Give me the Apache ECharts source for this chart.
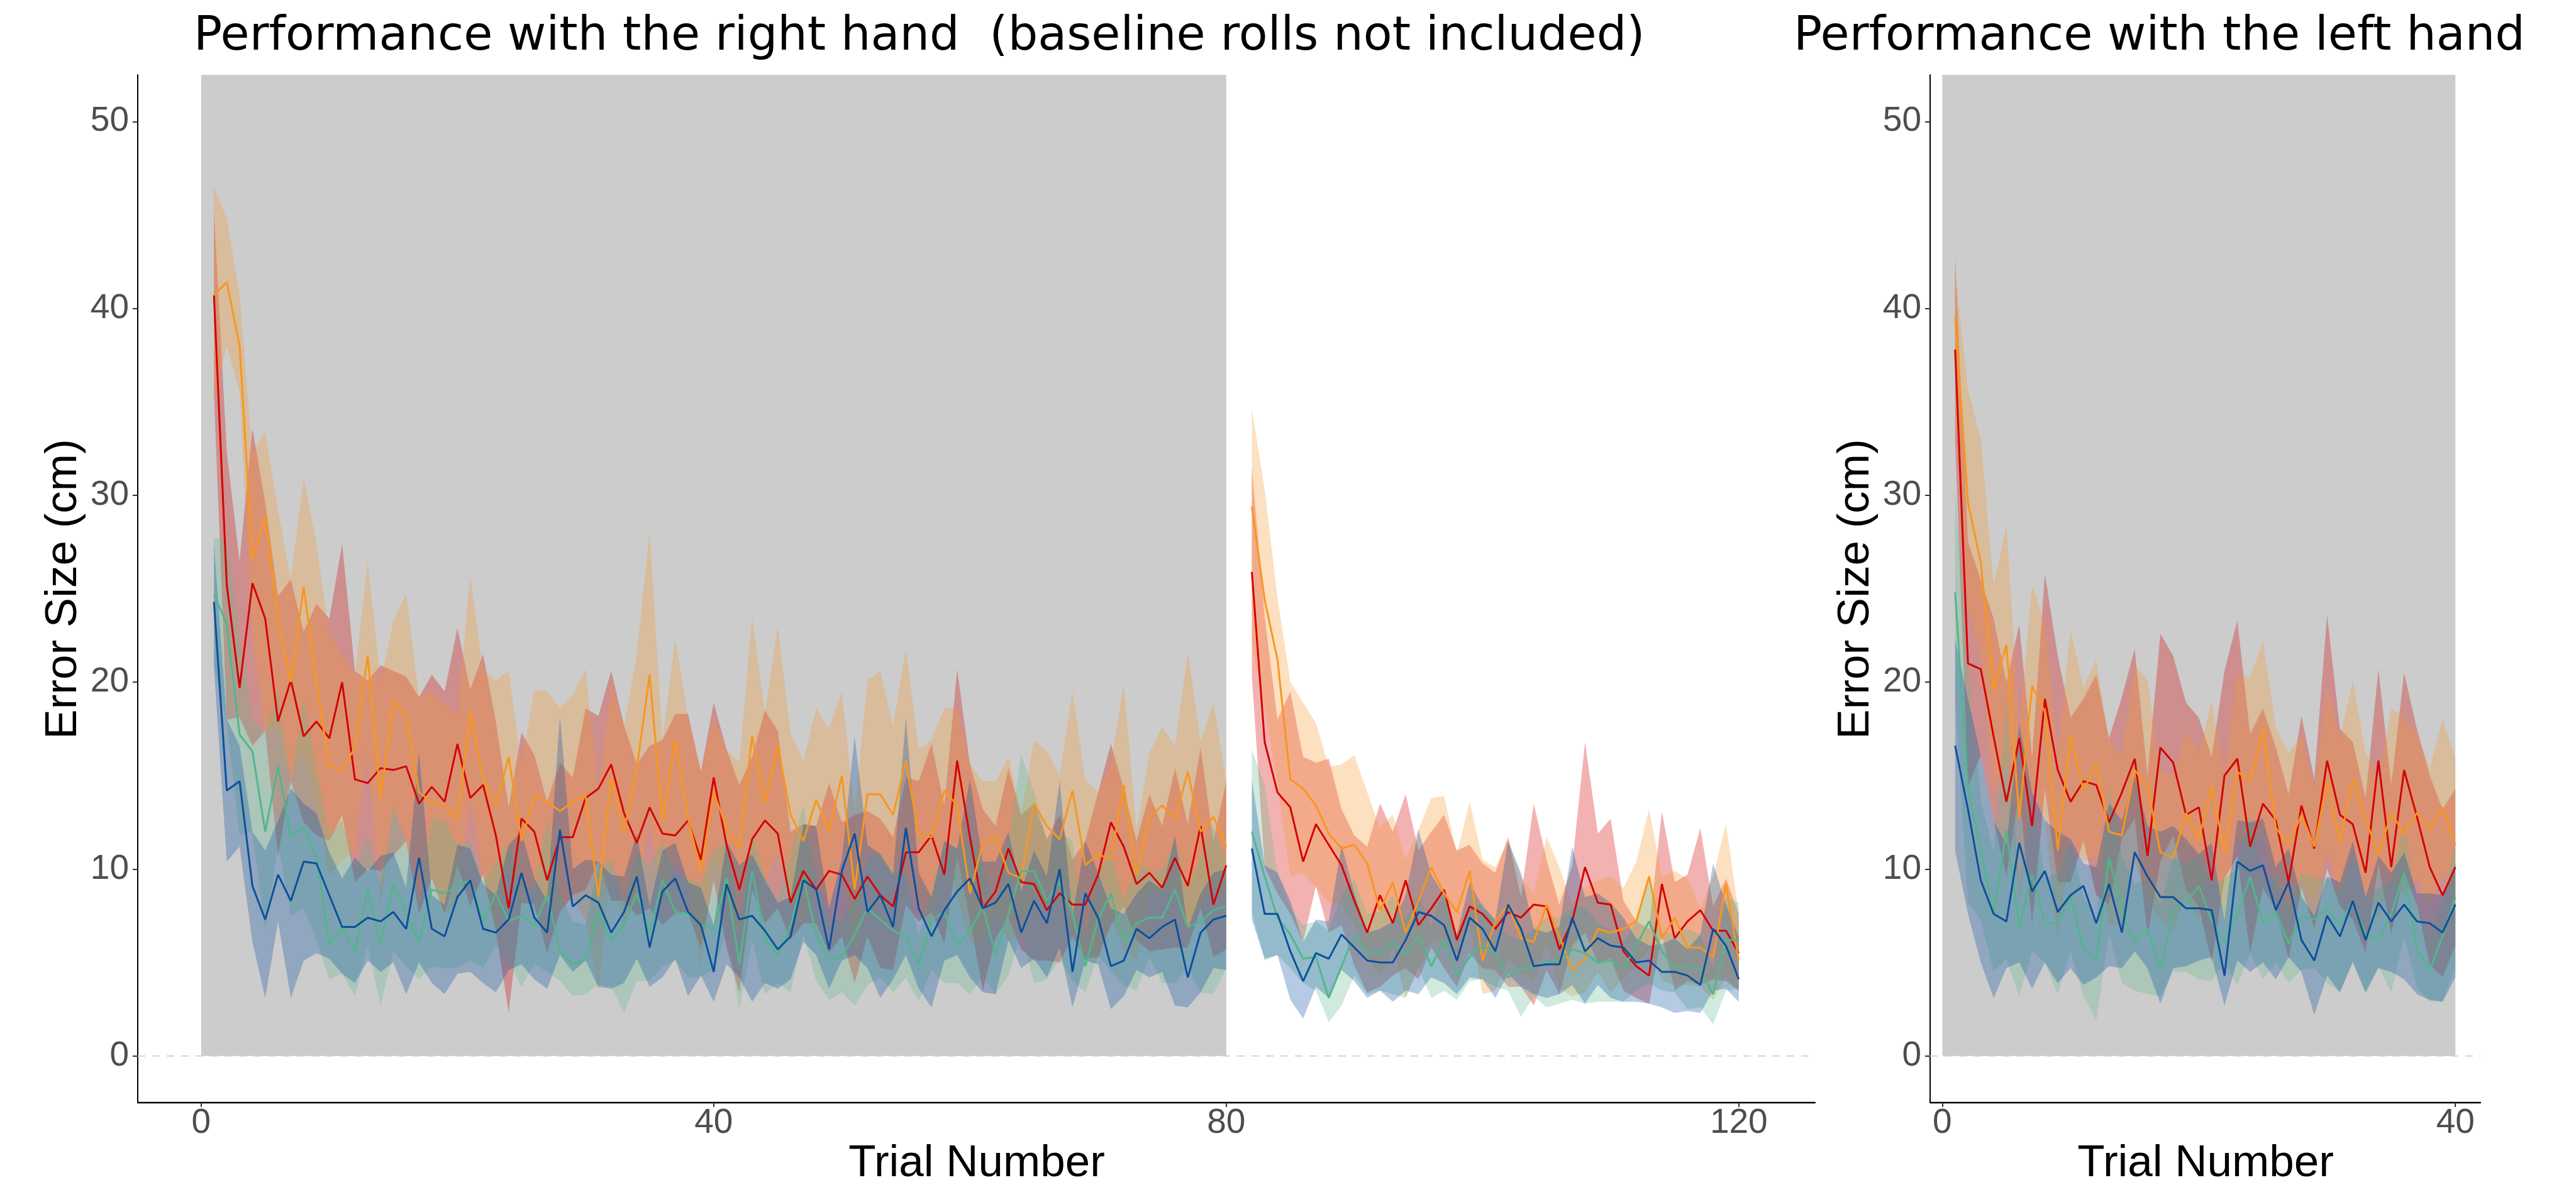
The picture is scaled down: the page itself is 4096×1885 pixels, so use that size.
<!DOCTYPE html>
<html>
<head>
<meta charset="utf-8">
<title>Performance with the right and left hand</title>
<script src="https://cdn.jsdelivr.net/npm/echarts@6/dist/echarts.min.js"></script>
<style>
  html, body { margin: 0; padding: 0; background: #fff; }
  #main { width: 4096px; height: 1885px; }
</style>
</head>
<body>
<div id="main"></div>
<script>
// ---- data: right hand, trials 1..120 (trial 81 = no data) ----
var rhRedMean = [40.7, 25.2, 19.7, 25.3, 23.4, 17.9, 20.1, 17.1, 17.9, 17.0, 20.0, 14.8, 14.6, 15.4, 15.3, 15.5, 13.5, 14.4, 13.6, 16.7,
  13.8, 14.5, 11.8, 7.9, 12.7, 12.0, 9.4, 11.7, 11.7, 13.8, 14.3, 15.6, 13.0, 11.4, 13.3, 11.9, 11.8, 12.6, 10.5, 14.9,
  11.3, 8.9, 11.6, 12.6, 11.9, 8.2, 9.9, 8.9, 9.9, 9.7, 8.4, 9.6, 8.6, 8.0, 10.9, 10.9, 11.8, 9.7, 15.8, 11.7,
  7.9, 8.8, 11.1, 9.3, 9.2, 7.8, 8.7, 8.1, 8.1, 9.7, 12.5, 11.2, 9.2, 9.8, 9.0, 10.6, 9.1, 12.3, 8.1, 10.2,
  null,
  25.9, 16.8, 14.1, 13.3, 10.4, 12.4, 11.3, 10.2, 8.3, 6.6, 8.6, 7.1, 9.4, 7.0, 7.9, 8.9, 6.2, 8.0, 7.6, 6.8,
  7.7, 7.4, 8.1, 8.0, 5.7, 7.2, 10.1, 8.2, 8.1, 5.6, 4.8, 4.3, 9.2, 6.3, 7.2, 7.8, 6.7, 6.7, 5.5];
var rhRedLow = [35.4, 18.0, 18.1, 16.6, 17.4, 10.7, 14.7, 12.5, 11.8, 11.5, 12.9, 9.3, 10.0, 9.9, 10.7, 11.5, 7.6, 9.5, 7.6, 10.2,
  8.0, 9.7, 6.7, 2.3, 8.2, 8.1, 5.5, 7.7, 8.6, 8.9, 10.4, 8.3, 8.3, 7.5, 7.9, 7.0, 7.6, 7.6, 5.8, 9.4,
  5.8, 3.4, 8.9, 7.1, 7.9, 6.2, 7.1, 7.1, 5.5, 6.4, 3.9, 6.4, 4.7, 4.6, 8.1, 7.2, 7.7, 6.0, 10.7, 7.3,
  3.5, 6.3, 7.4, 5.7, 5.1, 5.1, 5.0, 6.4, 5.2, 5.3, 7.0, 8.0, 6.2, 5.6, 5.7, 5.8, 5.8, 7.9, 5.3, 5.7,
  null,
  20.3, 10.1, 8.7, 7.6, 6.1, 9.1, 6.6, 7.0, 4.8, 3.4, 3.7, 4.3, 4.7, 4.1, 5.8, 4.7, 3.7, 5.5, 4.7, 4.6,
  3.7, 3.7, 2.7, 4.6, 3.3, 5.9, 6.6, 5.0, 5.2, 3.5, 3.1, 2.8, 6.5, 3.5, 4.0, 3.8, 4.1, 4.0, 3.5];
var rhRedHigh = [45.2, 32.3, 26.5, 33.6, 29.6, 24.6, 25.5, 22.7, 24.2, 23.4, 27.4, 20.6, 20.1, 20.9, 20.6, 20.3, 19.2, 20.4, 19.5, 22.9,
  19.6, 21.5, 17.9, 13.3, 17.3, 16.1, 13.6, 15.7, 14.9, 18.6, 18.2, 20.6, 17.7, 15.6, 16.6, 16.9, 18.3, 18.3, 15.2, 18.9,
  16.4, 14.5, 16.0, 18.5, 17.4, 12.0, 12.4, 12.3, 14.6, 12.5, 12.9, 13.1, 12.7, 11.7, 14.9, 14.7, 16.7, 13.4, 20.7, 15.6,
  13.2, 12.3, 15.4, 12.9, 13.5, 11.6, 12.9, 10.5, 11.5, 14.1, 16.7, 14.3, 11.5, 14.0, 12.3, 15.4, 12.4, 16.5, 11.5, 14.7,
  null,
  31.5, 23.5, 18.0, 19.5, 16.0, 15.7, 15.9, 13.2, 11.8, 11.2, 13.5, 12.0, 14.0, 11.0, 12.0, 12.9, 11.0, 11.3, 10.3, 9.8,
  11.7, 8.5, 13.5, 10.5, 8.1, 10.2, 16.8, 11.9, 12.7, 8.3, 7.2, 6.8, 13.1, 9.3, 9.7, 12.2, 8.0, 9.5, 7.6];

var rhOrangeMean = [40.7, 41.4, 38.0, 26.6, 28.9, 23.3, 20.0, 25.1, 20.0, 15.5, 15.3, 16.5, 21.4, 13.8, 19.0, 18.2, 14.1, 13.6, 13.4, 12.7,
  18.4, 14.8, 13.4, 16.0, 11.5, 13.9, 13.6, 13.1, 13.6, 13.9, 8.5, 14.9, 12.0, 15.4, 20.4, 12.6, 16.9, 12.7, 9.9, 14.1,
  12.2, 11.2, 17.1, 13.5, 16.6, 12.9, 11.5, 13.7, 12.0, 15.0, 8.9, 14.0, 14.0, 12.9, 15.8, 11.8, 11.7, 14.2, 13.4, 8.7,
  11.4, 11.7, 9.8, 9.5, 13.5, 12.3, 11.6, 14.2, 10.2, 10.8, 10.5, 14.5, 9.7, 12.8, 13.4, 12.7, 15.2, 12.0, 12.8, 11.2,
  null,
  29.4, 24.4, 21.2, 14.8, 14.3, 13.4, 11.9, 11.1, 11.3, 10.3, 7.8, 9.3, 6.6, 8.3, 10.1, 8.7, 7.7, 9.9, 5.1, 7.2,
  8.1, 6.3, 6.1, 8.1, 6.4, 4.6, 5.2, 6.8, 6.6, 6.8, 7.2, 9.6, 6.3, 7.4, 5.8, 5.8, 5.3, 9.2, 5.1];
var rhOrangeLow = [35.0, 38.0, 35.5, 22.4, 17.3, 17.5, 14.7, 16.3, 13.5, 9.6, 10.5, 10.9, 16.3, 8.1, 13.3, 11.6, 8.2, 9.6, 7.6, 8.2,
  13.9, 9.5, 6.8, 10.0, 8.2, 9.4, 8.0, 7.7, 8.5, 7.2, 3.4, 10.5, 6.9, 8.7, 12.5, 8.3, 10.4, 9.2, 4.7, 10.9,
  8.1, 6.8, 10.7, 9.2, 10.9, 8.3, 7.0, 9.8, 7.8, 10.7, 5.0, 11.1, 10.4, 9.7, 9.7, 7.7, 6.9, 11.0, 8.5, 6.1,
  6.1, 7.8, 6.1, 6.6, 8.5, 7.9, 8.0, 6.5, 5.3, 5.2, 7.4, 5.7, 5.1, 8.7, 8.7, 8.8, 6.6, 8.0, 9.0, 8.1,
  null,
  22.0, 18.5, 14.5, 9.6, 9.8, 9.0, 8.2, 8.1, 7.0, 5.3, 4.2, 5.8, 3.1, 4.7, 6.2, 5.9, 5.4, 7.0, 3.3, 3.5,
  5.2, 4.4, 4.0, 5.9, 3.6, 3.2, 3.4, 4.5, 3.4, 4.2, 4.8, 5.7, 4.0, 3.8, 3.8, 3.7, 3.0, 4.2, 3.5];
var rhOrangeHigh = [46.5, 44.8, 40.7, 32.2, 33.4, 29.2, 25.5, 30.9, 27.4, 22.5, 21.5, 20.4, 26.5, 20.0, 23.3, 24.7, 19.2, 19.5, 18.8, 18.3,
  25.7, 20.6, 20.1, 20.6, 15.6, 19.6, 19.5, 18.6, 19.3, 20.7, 14.1, 19.9, 17.6, 21.5, 28.1, 16.9, 22.3, 18.1, 15.3, 18.1,
  16.4, 15.7, 23.5, 18.3, 23.0, 17.3, 15.8, 18.6, 17.5, 19.5, 13.0, 20.1, 20.6, 17.6, 21.8, 16.4, 16.9, 18.6, 18.6, 15.6,
  14.7, 14.7, 16.0, 12.9, 16.9, 16.3, 15.0, 19.5, 14.8, 14.1, 15.6, 19.9, 12.1, 16.2, 17.6, 16.6, 21.6, 16.8, 18.9, 14.7,
  null,
  34.6, 30.3, 24.5, 20.0, 18.9, 17.8, 15.5, 15.6, 16.1, 14.1, 12.2, 12.9, 10.5, 12.1, 13.8, 13.9, 10.8, 13.6, 10.5, 10.1,
  11.5, 9.6, 8.7, 11.7, 10.1, 8.1, 9.0, 9.4, 9.6, 9.0, 10.4, 13.2, 9.6, 9.9, 9.5, 7.9, 9.6, 12.4, 7.6];

var rhGreenMean = [24.7, 23.1, 17.2, 16.3, 12.0, 15.5, 11.8, 12.2, 10.7, 6.0, 6.9, 5.6, 8.9, 6.0, 9.2, 7.6, 6.1, 8.9, 8.7, 9.1,
  9.4, 7.2, 8.7, 7.2, 7.5, 7.0, 8.6, 5.6, 4.9, 5.2, 7.7, 6.2, 7.0, 8.7, 6.6, 9.4, 7.7, 7.6, 7.0, 6.8,
  9.5, 4.9, 9.9, 6.3, 5.4, 7.0, 9.5, 6.5, 5.1, 5.3, 6.5, 7.9, 7.3, 6.7, 6.4, 4.9, 7.3, 7.7, 5.9, 6.7,
  8.0, 5.4, 7.6, 9.9, 9.9, 8.3, 9.3, 7.6, 4.8, 7.3, 8.7, 6.1, 7.1, 7.4, 7.4, 8.9, 6.9, 7.2, 7.8, 8.0,
  null,
  12.0, 9.6, 7.4, 6.5, 5.2, 5.3, 3.1, 4.8, 6.5, 5.5, 5.5, 6.1, 5.4, 6.5, 4.8, 6.2, 4.3, 5.3, 5.9, 5.5,
  4.2, 4.7, 4.7, 5.1, 5.1, 5.7, 5.5, 5.0, 5.1, 4.7, 5.9, 7.2, 5.6, 4.7, 4.8, 4.6, 3.3, 6.2, 6.2];
var rhGreenLow = [20.9, 17.8, 11.8, 12.0, 6.7, 11.3, 7.5, 7.9, 6.2, 4.1, 4.4, 3.2, 5.9, 2.7, 5.6, 4.8, 4.1, 4.8, 4.7, 4.7,
  5.1, 4.7, 5.9, 5.0, 3.7, 4.9, 4.5, 4.0, 3.2, 3.3, 3.8, 3.7, 2.3, 4.0, 4.0, 4.8, 5.1, 4.2, 4.2, 4.7,
  6.6, 2.5, 6.2, 3.3, 3.9, 3.4, 6.5, 4.0, 3.0, 3.4, 2.7, 3.8, 4.2, 3.4, 4.2, 2.9, 4.6, 3.9, 3.9, 3.3,
  4.2, 3.3, 4.3, 6.6, 3.9, 4.1, 5.2, 4.0, 3.4, 5.4, 4.5, 3.8, 3.5, 5.3, 3.9, 3.9, 4.7, 3.4, 3.3, 4.7,
  null,
  7.7, 5.1, 5.4, 4.7, 3.9, 3.5, 1.8, 2.7, 4.3, 3.3, 3.5, 3.3, 3.1, 4.7, 3.1, 3.5, 3.0, 4.0, 4.1, 3.7,
  3.5, 2.1, 3.2, 2.6, 2.8, 3.0, 2.8, 2.9, 2.9, 2.9, 3.5, 3.9, 3.5, 3.4, 2.5, 2.6, 1.7, 3.5, 3.6];
var rhGreenHigh = [27.7, 27.6, 22.5, 18.0, 17.3, 19.5, 14.7, 19.1, 15.3, 11.8, 12.6, 10.1, 11.8, 9.0, 13.3, 11.5, 8.2, 12.7, 12.6, 11.3,
  11.5, 9.3, 10.4, 11.3, 9.2, 8.9, 12.7, 8.7, 7.2, 7.0, 10.2, 10.5, 8.3, 11.0, 10.1, 11.5, 9.8, 9.5, 9.2, 11.0,
  11.5, 7.2, 12.0, 9.6, 8.4, 10.9, 13.4, 9.5, 7.4, 7.2, 8.5, 10.5, 10.9, 9.8, 9.8, 6.4, 8.8, 11.5, 11.1, 11.5,
  10.4, 8.0, 11.5, 16.1, 14.1, 11.6, 12.0, 11.5, 6.4, 9.8, 11.0, 8.3, 10.3, 9.9, 9.9, 11.5, 9.0, 10.7, 12.3, 10.4,
  null,
  16.4, 14.5, 9.8, 7.9, 7.0, 7.2, 6.7, 8.6, 9.5, 7.6, 7.7, 8.6, 7.4, 8.6, 7.0, 8.9, 6.5, 7.8, 8.2, 7.2,
  6.4, 6.2, 6.8, 7.4, 7.4, 7.9, 8.0, 7.1, 6.8, 6.1, 7.2, 9.7, 6.6, 6.6, 6.8, 6.5, 4.8, 8.5, 8.2];

var rhBlueMean = [24.3, 14.2, 14.7, 9.1, 7.3, 9.7, 8.3, 10.4, 10.3, 8.6, 6.9, 6.9, 7.4, 7.2, 7.7, 6.8, 10.6, 6.8, 6.4, 8.5,
  9.4, 6.8, 6.6, 7.3, 9.8, 7.4, 6.6, 12.1, 8.0, 8.6, 8.2, 6.6, 7.7, 9.6, 5.8, 8.8, 9.5, 7.7, 7.0, 4.5,
  9.2, 7.3, 7.5, 6.7, 5.7, 6.4, 9.4, 8.9, 5.7, 9.9, 11.9, 7.7, 8.6, 6.9, 12.2, 7.9, 6.4, 7.8, 8.8, 9.5,
  7.9, 8.2, 9.2, 6.6, 8.3, 7.1, 10.0, 4.5, 8.7, 7.4, 4.8, 5.1, 6.8, 6.3, 6.9, 7.3, 4.2, 6.6, 7.3, 7.5,
  null,
  11.1, 7.6, 7.6, 5.6, 4.0, 5.5, 5.2, 6.5, 5.8, 5.1, 5.0, 5.0, 6.2, 7.7, 7.5, 7.0, 5.1, 7.4, 6.8, 5.6,
  8.1, 6.8, 4.8, 4.9, 4.9, 7.4, 5.6, 6.3, 5.9, 5.8, 5.0, 5.1, 4.5, 4.5, 4.3, 3.8, 6.8, 5.9, 4.1];
var rhBlueLow = [20.8, 10.4, 11.2, 6.1, 3.1, 7.2, 3.1, 5.1, 5.5, 5.2, 4.4, 3.9, 5.1, 4.5, 5.0, 3.3, 5.0, 3.9, 3.3, 4.4,
  4.5, 3.9, 3.4, 4.6, 4.9, 4.1, 3.6, 5.4, 4.5, 5.1, 3.7, 3.6, 3.9, 5.2, 3.7, 4.2, 5.2, 3.2, 4.3, 2.9,
  4.9, 4.2, 2.9, 3.9, 3.6, 4.1, 6.1, 5.4, 3.6, 5.1, 5.4, 4.7, 3.1, 4.1, 5.4, 3.6, 2.6, 5.1, 5.4, 4.2,
  3.4, 3.3, 6.2, 4.7, 5.2, 4.2, 5.8, 2.6, 5.1, 4.9, 2.5, 3.2, 4.6, 4.2, 4.5, 2.7, 2.6, 3.4, 4.7, 4.6,
  null,
  7.3, 5.2, 5.4, 3.0, 2.0, 3.7, 3.1, 4.6, 4.0, 3.1, 3.5, 2.9, 3.5, 3.3, 4.2, 3.9, 3.3, 4.2, 4.1, 3.1,
  4.4, 3.7, 3.3, 3.1, 3.3, 3.8, 2.8, 3.8, 3.1, 2.9, 2.9, 2.8, 2.6, 2.3, 2.4, 2.3, 3.5, 3.6, 2.9];
var rhBlueHigh = [27.4, 18.0, 16.6, 12.0, 11.0, 12.6, 14.3, 13.5, 13.0, 10.9, 9.5, 10.6, 9.9, 10.7, 10.9, 9.0, 16.3, 8.6, 8.1, 11.3,
  11.1, 9.2, 8.6, 11.3, 12.0, 9.5, 8.3, 18.2, 10.0, 10.5, 10.4, 9.7, 9.6, 11.9, 8.0, 11.0, 11.4, 9.3, 9.0, 7.0,
  11.5, 10.2, 10.8, 9.4, 8.2, 8.5, 12.4, 12.3, 7.9, 10.5, 17.1, 11.3, 10.8, 9.7, 18.1, 9.8, 8.5, 11.5, 11.1, 14.8,
  10.4, 10.4, 12.0, 8.8, 11.0, 9.6, 14.7, 7.5, 11.5, 9.8, 7.9, 7.6, 8.7, 9.4, 8.9, 11.8, 6.8, 8.7, 9.8, 10.0,
  null,
  14.8, 10.2, 9.8, 8.3, 6.1, 7.3, 7.2, 11.3, 8.7, 6.6, 6.8, 7.2, 8.6, 12.1, 9.7, 8.6, 6.5, 9.3, 8.0, 7.3,
  11.5, 9.8, 6.8, 6.6, 6.9, 11.2, 8.5, 8.7, 8.2, 7.4, 6.3, 5.9, 6.0, 6.3, 5.7, 6.5, 10.3, 8.1, 6.4];

// ---- data: left hand, trials 1..40 ----
var lhRedMean = [37.8, 21.0, 20.7, 17.1, 13.6, 17.0, 12.3, 19.1, 15.3, 13.6, 14.7, 14.5, 12.5, 14.1, 15.9, 10.7, 16.5, 15.7, 12.9, 13.3,
  9.4, 15.0, 15.9, 11.2, 13.5, 12.6, 9.3, 13.4, 11.1, 15.8, 12.9, 12.4, 9.8, 15.8, 10.1, 15.3, 12.8, 10.1, 8.6, 10.1];
var lhRedLow = [33.0, 14.4, 16.1, 12.6, 9.6, 14.1, 7.0, 14.3, 9.3, 9.3, 11.5, 8.6, 8.1, 11.6, 12.7, 6.4, 10.4, 11.8, 8.9, 8.0,
  5.0, 9.5, 10.7, 5.5, 9.0, 7.8, 5.2, 9.0, 6.8, 10.0, 8.0, 7.3, 5.5, 10.3, 6.5, 9.8, 8.1, 4.9, 4.2, 5.9];
var lhRedHigh = [42.7, 27.5, 25.5, 23.4, 20.0, 23.1, 16.0, 25.8, 21.4, 18.1, 19.1, 20.4, 17.0, 19.2, 21.8, 15.0, 22.6, 21.4, 18.9, 18.1,
  16.0, 20.6, 23.3, 17.2, 18.6, 16.5, 14.0, 18.2, 14.8, 23.6, 17.5, 16.8, 13.8, 20.7, 14.5, 20.5, 17.5, 15.0, 13.2, 14.3];
var lhOrangeMean = [39.5, 29.6, 26.4, 19.6, 22.0, 12.7, 19.8, 18.4, 11.0, 17.2, 14.2, 15.6, 12.0, 11.8, 15.3, 14.4, 10.9, 10.6, 13.0, 11.6,
  14.4, 10.9, 15.2, 14.7, 17.5, 12.2, 11.3, 12.9, 11.2, 14.7, 11.4, 14.8, 12.7, 10.7, 13.0, 11.9, 13.0, 12.1, 13.3, 11.3];
var lhOrangeLow = [34.0, 24.0, 21.5, 14.1, 15.5, 8.2, 14.3, 12.7, 6.2, 11.6, 10.4, 10.7, 7.0, 7.0, 10.4, 8.4, 7.3, 6.7, 8.6, 7.2,
  10.7, 7.0, 11.5, 11.3, 11.9, 9.0, 7.2, 9.5, 8.1, 11.0, 8.5, 11.0, 8.8, 7.3, 9.5, 8.6, 9.5, 8.0, 9.8, 8.0];
var lhOrangeHigh = [42.1, 35.7, 33.0, 25.2, 28.4, 17.5, 25.2, 23.1, 16.3, 22.8, 19.7, 21.2, 16.9, 16.0, 20.9, 20.1, 15.3, 15.0, 17.4, 16.2,
  19.0, 15.0, 20.4, 20.3, 22.2, 17.6, 16.2, 17.2, 14.3, 19.7, 17.0, 20.1, 16.2, 14.8, 18.6, 18.1, 17.3, 15.4, 18.0, 15.9];
var lhGreenMean = [24.8, 14.4, 11.0, 7.6, 12.1, 6.9, 9.7, 7.1, 7.1, 8.6, 5.7, 5.2, 10.6, 7.8, 6.1, 6.8, 4.6, 7.8, 8.2, 9.1,
  7.2, 6.1, 7.6, 9.6, 7.1, 7.7, 6.0, 7.5, 7.3, 7.9, 7.0, 8.3, 6.5, 6.2, 7.6, 9.8, 5.7, 4.6, 6.4, 8.5];
var lhGreenLow = [19.1, 8.2, 7.3, 4.5, 5.2, 3.2, 5.6, 5.0, 3.3, 5.6, 3.2, 1.9, 6.5, 3.9, 3.5, 3.3, 3.2, 4.5, 4.5, 4.1,
  4.0, 5.0, 3.8, 5.5, 4.1, 5.0, 3.9, 4.6, 4.7, 3.9, 3.4, 5.1, 3.3, 4.8, 3.4, 6.4, 3.7, 2.9, 2.9, 4.7];
var lhGreenHigh = [30.3, 20.9, 13.7, 10.9, 18.9, 9.2, 13.8, 9.5, 9.8, 11.5, 8.6, 7.3, 14.4, 10.7, 9.2, 9.5, 8.0, 10.6, 10.3, 10.7,
  9.2, 9.5, 10.0, 13.0, 9.5, 9.6, 8.0, 9.8, 9.5, 9.5, 8.8, 10.9, 8.5, 9.0, 9.3, 12.4, 8.0, 6.5, 8.3, 11.5];
var lhBlueMean = [16.6, 13.2, 9.4, 7.6, 7.2, 11.4, 8.8, 9.9, 7.7, 8.6, 9.1, 7.1, 9.2, 6.6, 10.9, 9.6, 8.5, 8.5, 7.9, 7.9,
  7.8, 4.3, 10.4, 9.9, 10.2, 7.8, 9.3, 6.2, 5.1, 7.5, 6.4, 8.3, 6.2, 8.2, 7.2, 8.1, 7.2, 7.1, 6.6, 8.1];
var lhBlueLow = [11.0, 7.6, 5.0, 3.1, 4.7, 5.0, 3.6, 5.0, 3.9, 4.7, 3.8, 4.2, 4.8, 4.7, 5.6, 4.7, 2.8, 4.7, 4.8, 5.1,
  5.3, 2.7, 5.1, 4.5, 5.0, 4.1, 5.3, 4.5, 2.2, 4.3, 3.4, 5.0, 3.4, 4.7, 4.5, 4.1, 3.3, 3.0, 2.9, 4.2];
var lhBlueHigh = [22.3, 19.1, 16.1, 12.6, 11.3, 17.8, 14.1, 12.6, 12.0, 11.6, 10.3, 10.1, 13.5, 12.6, 15.0, 12.3, 12.0, 12.3, 11.6, 10.8,
  11.4, 7.2, 12.6, 12.5, 12.7, 10.1, 11.1, 8.5, 7.5, 9.6, 9.3, 11.5, 8.5, 10.7, 9.8, 10.9, 8.7, 8.7, 8.6, 10.3];

// ticks and the shaded (gray) trial ranges
var yTicks = [0, 10, 20, 30, 40, 50];
var rhXTicks = [0, 40, 80, 120];
var lhXTicks = [0, 40];
var rhShade = [0, 80];
var lhShade = [0, 40];

var RED = '#D40000', ORANGE = '#F8961E', GREEN = '#52B68C', BLUE = '#0B4F9C';
var RED_BAND = '#D40000', ORANGE_BAND = '#F5982D', GREEN_BAND = '#62B88D', BLUE_BAND = '#0B51A1';

var rhTrials = [], lhTrials = [];
for (var t = 1; t <= 120; t++) rhTrials.push(t);
for (var t2 = 1; t2 <= 40; t2++) lhTrials.push(t2);

var Y_MIN = -2.5, Y_MAX = 52.5;

function rgba(hex, a) {
  var n = parseInt(hex.slice(1), 16);
  return 'rgba(' + (n >> 16) + ',' + ((n >> 8) & 255) + ',' + (n & 255) + ',' + a + ')';
}

function pairs(xs, ys) {
  return xs.map(function (x, i) { return [x, ys[i] == null ? '-' : ys[i]]; });
}

// gray shaded block + dashed zero line
function backdrop(idx, shade) {
  return {
    type: 'custom', xAxisIndex: idx, yAxisIndex: idx, silent: true, z: 1,
    data: [[shade[0], 0]],
    renderItem: function (params, api) {
      var a = api.coord([shade[0], 0]);
      var b = api.coord([shade[1], Y_MAX]);
      var cs = params.coordSys;
      return {
        type: 'group', children: [
          { type: 'rect', shape: { x: a[0], y: b[1], width: b[0] - a[0], height: a[1] - b[1] }, style: { fill: '#CCCCCC' } },
          { type: 'line', shape: { x1: cs.x, y1: a[1], x2: cs.x + cs.width, y2: a[1] },
            style: { stroke: '#D3D3D3', lineWidth: 2, lineDash: [12, 11] } }
        ]
      };
    }
  };
}

// ribbon between low and high, split at missing trials
function band(idx, xs, low, high, color) {
  var runs = [], cur = [];
  for (var i = 0; i < xs.length; i++) {
    if (low[i] == null || high[i] == null) {
      if (cur.length) runs.push(cur);
      cur = [];
    } else {
      cur.push(i);
    }
  }
  if (cur.length) runs.push(cur);
  return {
    type: 'custom', xAxisIndex: idx, yAxisIndex: idx, silent: true, z: 2,
    data: runs.map(function (r) { return [xs[r[0]], low[r[0]]]; }),
    renderItem: function (params, api) {
      var r = runs[params.dataIndex], pts = [];
      r.forEach(function (i) { pts.push(api.coord([xs[i], high[i]])); });
      r.slice().reverse().forEach(function (i) { pts.push(api.coord([xs[i], low[i]])); });
      return { type: 'polygon', shape: { points: pts }, style: { fill: rgba(color, 0.3) } };
    }
  };
}

function meanLine(idx, xs, ys, color) {
  return {
    type: 'line', xAxisIndex: idx, yAxisIndex: idx, data: pairs(xs, ys),
    symbol: 'none', showSymbol: false, connectNulls: false, silent: true, z: 3,
    lineStyle: { color: color, width: 3 }
  };
}

var tickFont = { color: '#4D4D4D', fontFamily: 'Liberation Sans', fontSize: 55 };

function xAxis(idx, min, max, ticks) {
  return {
    gridIndex: idx, type: 'value', min: min, max: max,
    axisLine: { show: true, onZero: false, lineStyle: { color: '#000', width: 2.3 } },
    axisTick: { show: true, length: 7, customValues: ticks, lineStyle: { color: '#333', width: 2 } },
    axisLabel: Object.assign({ customValues: ticks, margin: 5 }, tickFont),
    splitLine: { show: false }
  };
}

function yAxis(idx) {
  return {
    gridIndex: idx, type: 'value', min: Y_MIN, max: Y_MAX,
    axisLine: { show: true, onZero: false, lineStyle: { color: '#000', width: 2 } },
    axisTick: { show: true, length: 8, customValues: yTicks, lineStyle: { color: '#333', width: 2 } },
    axisLabel: Object.assign({ customValues: yTicks, margin: 14 }, tickFont),
    splitLine: { show: false }
  };
}

function textEl(str, x, y, font, size, align, rot) {
  return {
    type: 'text', x: x, y: y, rotation: rot || 0, silent: true,
    style: {
      text: str, fill: '#000', fontFamily: font, fontSize: size,
      textAlign: align, align: align, textVerticalAlign: 'middle', verticalAlign: 'middle'
    }
  };
}

var series = [
  backdrop(0, rhShade), backdrop(1, lhShade),
  band(0, rhTrials, rhRedLow, rhRedHigh, RED_BAND),
  band(0, rhTrials, rhOrangeLow, rhOrangeHigh, ORANGE_BAND),
  band(0, rhTrials, rhGreenLow, rhGreenHigh, GREEN_BAND),
  band(0, rhTrials, rhBlueLow, rhBlueHigh, BLUE_BAND),
  band(1, lhTrials, lhRedLow, lhRedHigh, RED_BAND),
  band(1, lhTrials, lhOrangeLow, lhOrangeHigh, ORANGE_BAND),
  band(1, lhTrials, lhGreenLow, lhGreenHigh, GREEN_BAND),
  band(1, lhTrials, lhBlueLow, lhBlueHigh, BLUE_BAND),
  meanLine(0, rhTrials, rhRedMean, RED),
  meanLine(0, rhTrials, rhOrangeMean, ORANGE),
  meanLine(0, rhTrials, rhGreenMean, GREEN),
  meanLine(0, rhTrials, rhBlueMean, BLUE),
  meanLine(1, lhTrials, lhRedMean, RED),
  meanLine(1, lhTrials, lhOrangeMean, ORANGE),
  meanLine(1, lhTrials, lhGreenMean, GREEN),
  meanLine(1, lhTrials, lhBlueMean, BLUE)
];

var chart = echarts.init(document.getElementById('main'));
chart.setOption({
  animation: false,
  backgroundColor: '#fff',
  grid: [
    { left: 219, top: 119, width: 2667, height: 1635 },
    { left: 3069, top: 119, width: 875, height: 1635 }
  ],
  xAxis: [xAxis(0, -4.95, 125.95, rhXTicks), xAxis(1, -0.95, 41.95, lhXTicks)],
  yAxis: [yAxis(0), yAxis(1)],
  graphic: [
    textEl('Performance with the right hand  (baseline rolls not included)', 308, 60, 'DejaVu Sans', 75, 'left'),
    textEl('Performance with the left hand', 2852, 60, 'DejaVu Sans', 75, 'left'),
    textEl('Trial Number', 1553, 1851, 'Liberation Sans', 71, 'center'),
    textEl('Trial Number', 3507, 1851, 'Liberation Sans', 71, 'center'),
    textEl('Error Size (cm)', 101, 937, 'Liberation Sans', 71, 'center', Math.PI / 2),
    textEl('Error Size (cm)', 2951, 937, 'Liberation Sans', 71, 'center', Math.PI / 2)
  ],
  series: series
});
</script>
</body>
</html>
